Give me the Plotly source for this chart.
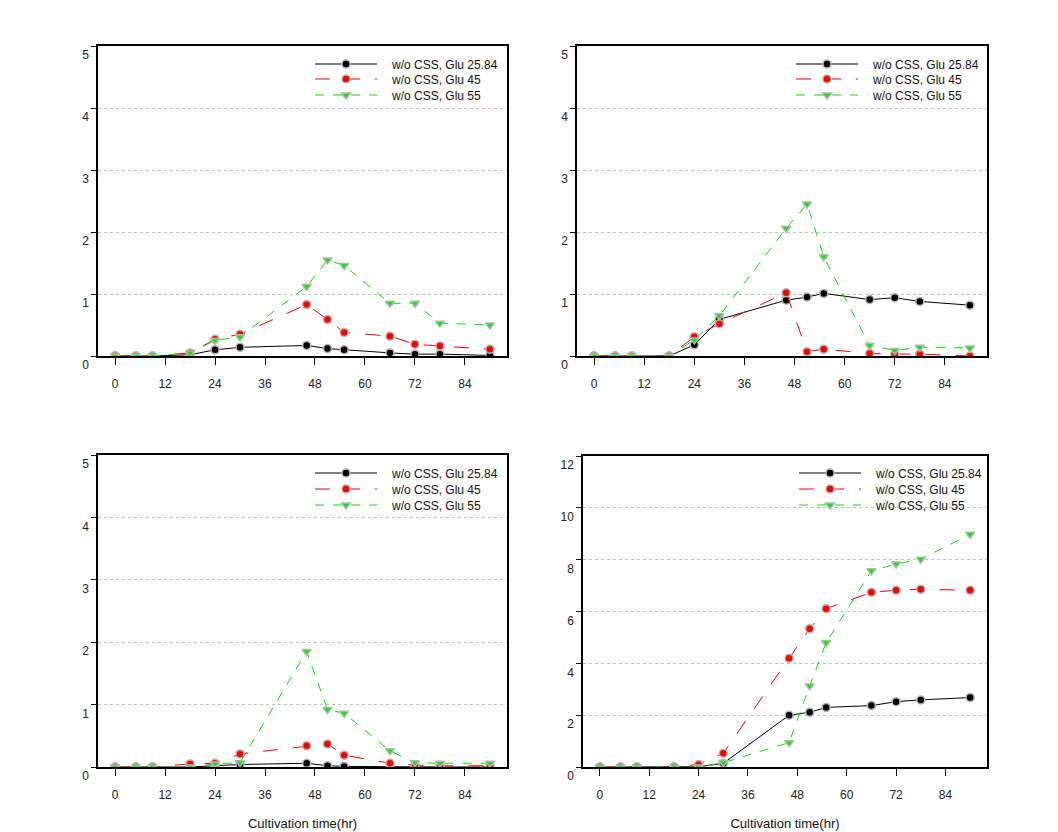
import plotly.graph_objects as go

# ---------------- data ----------------
times = [0, 5, 9, 18, 24, 30, 46, 51, 55, 66, 72, 78, 90]
series_names = ["w/o CSS, Glu 25.84", "w/o CSS, Glu 45", "w/o CSS, Glu 55"]

# panel A (top-left)
black_a = [0, 0, 0, 0.02, 0.10, 0.14, 0.17, 0.12, 0.10, 0.05, 0.03, 0.03, 0.01]
red_a = [0, 0, 0, 0.05, 0.27, 0.35, 0.83, 0.59, 0.38, 0.32, 0.19, 0.16, 0.11]
green_a = [0, 0, 0, 0.05, 0.25, 0.31, 1.12, 1.55, 1.46, 0.85, 0.85, 0.53, 0.50]

# panel B (top-right)
black_b = [0, 0, 0, 0, 0.18, 0.59, 0.90, 0.95, 1.01, 0.91, 0.94, 0.88, 0.82]
red_b = [0, 0, 0, 0, 0.31, 0.52, 1.02, 0.07, 0.11, 0.04, 0.03, 0.03, 0.0]
green_b = [0, 0, 0, 0, 0.26, 0.65, 2.06, 2.45, 1.60, 0.17, 0.09, 0.14, 0.13]

# panel C (bottom-left)
black_c = [0, 0, 0, 0, 0.02, 0.04, 0.06, 0.02, 0.01, 0.0, 0.0, 0.0, 0.0]
red_c = [0, 0, 0, 0.05, 0.06, 0.21, 0.34, 0.37, 0.19, 0.06, 0.03, 0.02, 0.02]
green_c = [0, 0, 0, 0, 0.05, 0.07, 1.85, 0.92, 0.86, 0.26, 0.07, 0.06, 0.06]

# panel D (bottom-right)
black_d = [0, 0, 0, 0, 0.01, 0.14, 2.00, 2.11, 2.30, 2.37, 2.52, 2.59, 2.68]
red_d = [0, 0, 0, 0, 0.10, 0.53, 4.20, 5.33, 6.11, 6.74, 6.82, 6.86, 6.82]
green_d = [0, 0, 0, 0, 0.0, 0.17, 0.94, 3.13, 4.80, 7.57, 7.83, 8.02, 8.98]

x_ticks = [0, 12, 24, 36, 48, 60, 72, 84]
y_ticks_small = [0, 1, 2, 3, 4, 5]
y_ticks_big = [0, 2, 4, 6, 8, 10, 12]
x_title = "Cultivation time(hr)"

# ---------------- layout geometry ----------------
W, H = 1058, 832
FONT = "Arial, Liberation Sans, sans-serif"

def px_x(p):
    return p / W

def px_y(p):
    return 1 - p / H

panels = [
    dict(xd=(98, 507), yd=(46, 356), yr=[0, 5], yt=y_ticks_small,
         data=(black_a, red_a, green_a), leg_x=310, leg_rows=(64, 79, 95), title=False),
    dict(xd=(577, 987), yd=(46, 356), yr=[0, 5], yt=y_ticks_small,
         data=(black_b, red_b, green_b), leg_x=791, leg_rows=(64, 79, 95), title=False),
    dict(xd=(98, 507), yd=(455, 767), yr=[0, 5], yt=y_ticks_small,
         data=(black_c, red_c, green_c), leg_x=310, leg_rows=(473, 489, 505), title=True),
    dict(xd=(583, 987), yd=(456, 767), yr=[0, 12], yt=y_ticks_big,
         data=(black_d, red_d, green_d), leg_x=794, leg_rows=(473, 489, 505), title=True),
]

styles = [
    dict(line=dict(color="black", width=1, dash="solid"),
         marker=dict(symbol="circle", color="black", size=8,
                     line=dict(color="#b5b5b5", width=1.5))),
    dict(line=dict(color="#ff0000", width=1, dash="longdash"),
         marker=dict(symbol="circle", color="#ff0000", size=8,
                     line=dict(color="#b5b5b5", width=1.5))),
    dict(line=dict(color="#00e600", width=1, dash="dash"),
         marker=dict(symbol="triangle-down", color="#00ee00", size=8,
                     line=dict(color="#b5b5b5", width=1.5))),
]

fig = go.Figure()
layout = dict(
    width=W, height=H,
    margin=dict(l=0, r=0, t=0, b=0, autoexpand=False),
    paper_bgcolor="white", plot_bgcolor="white",
    font=dict(family=FONT, size=12, color="#222222"),
)

leg_count = 0
for i, p in enumerate(panels):
    n = i + 1
    xa = "x" if n == 1 else f"x{n}"
    ya = "y" if n == 1 else f"y{n}"
    for s, (vals, st) in enumerate(zip(p["data"], styles)):
        leg_count += 1
        lg = "legend" if leg_count == 1 else f"legend{leg_count}"
        fig.add_trace(go.Scatter(
            x=times, y=vals, mode="lines+markers",
            name="   " + series_names[s], line=st["line"], marker=st["marker"],
            xaxis=xa, yaxis=ya, legend=lg, showlegend=True,
        ))
        layout[lg] = dict(
            x=px_x(p["leg_x"]), y=px_y(p["leg_rows"][s]),
            xanchor="left", yanchor="middle",
            bgcolor="rgba(0,0,0,0)", borderwidth=0,
            itemwidth=62,
            font=dict(size=12, color="#111111", family=FONT),
        )
    xkey = "xaxis" if n == 1 else f"xaxis{n}"
    ykey = "yaxis" if n == 1 else f"yaxis{n}"
    layout[xkey] = dict(
        domain=[px_x(p["xd"][0]), px_x(p["xd"][1])],
        anchor=ya, range=[-4.1, 94.1], automargin=False,
        tickmode="array", tickvals=x_ticks,
        showline=True, linecolor="black", linewidth=1.5, mirror=True,
        ticks="outside", ticklen=7, tickwidth=1, tickcolor="black",
        showgrid=False, zeroline=False,
        tickfont=dict(size=12, color="#222222"),
        ticklabelstandoff=9,
        title=dict(text=x_title if p["title"] else "",
                   font=dict(size=13, color="#111111"), standoff=18),
    )
    layout[ykey] = dict(
        domain=[px_y(p["yd"][1]), px_y(p["yd"][0])],
        anchor=xa, range=p["yr"], automargin=False,
        tickmode="array", tickvals=p["yt"],
        showline=True, linecolor="black", linewidth=1.5, mirror=True,
        ticks="outside", ticklen=5, tickwidth=1, tickcolor="black",
        showgrid=True, gridcolor="#c4c4c4", griddash="dot", gridwidth=1,
        zeroline=False,
        tickfont=dict(size=12, color="#222222"),
        ticklabelshift=9,
    )

fig.update_layout(**layout)
fig.write_html("out.html",
               config={"displayModeBar": False},
               post_script="document.body.style.margin='0';document.body.style.overflow='hidden';")
